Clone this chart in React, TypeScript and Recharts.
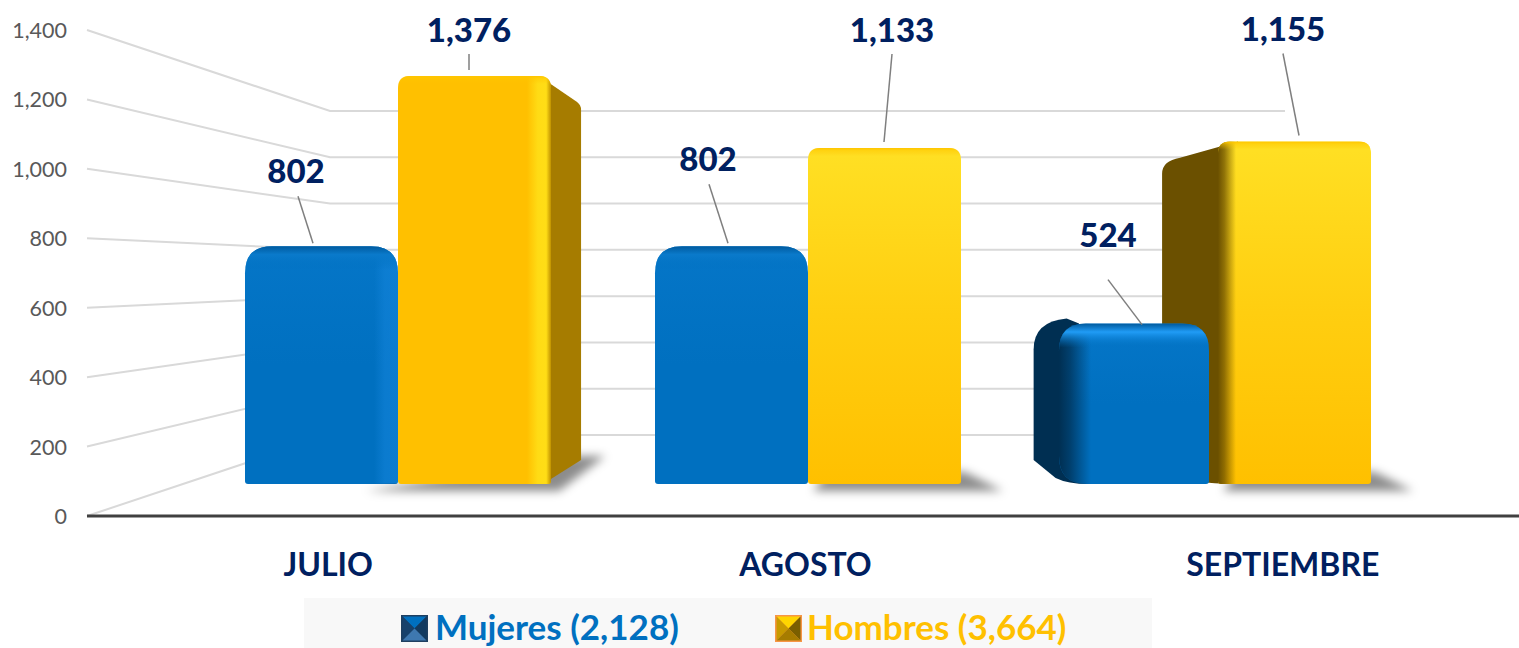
import React from "react";
import { BarChart, Bar, XAxis, YAxis, Legend, LabelList } from "recharts";

const months = ["JULIO", "AGOSTO", "SEPTIEMBRE"];
const mujeres = [802, 802, 524];
const hombres = [1376, 1133, 1155];
const wallTicks = [0, 200, 400, 600, 800, 1000, 1200, 1400];
const seriesNames = ["Mujeres (2,128)", "Hombres (3,664)"];

const rows = months.map((month, i) => ({ month, Mujeres: mujeres[i], Hombres: hombres[i] }));

// Layout only: where the callout text and its leader sit relative to each bar's top-centre.
const mujeresCallouts = [
  { tx: -25.5, ty: -76, x1: -23.5, y1: -50, x2: -8.5, y2: -3 },
  { tx: -23.5, ty: -88, x1: -22.5, y1: -62, x2: -3.5, y2: -3 },
  { tx: -26, ty: -95, x1: -26, y1: -49, x2: 8, y2: -4 },
];
const hombresCallouts = [
  { tx: -5.5, ty: -47, x1: -5.5, y1: -22, x2: -5.5, y2: -6 },
  { tx: 7.5, ty: -119, x1: 7.5, y1: -94, x2: -0.5, y2: -6 },
  { tx: -11.5, ty: -113, x1: -11.5, y1: -88, x2: 4.5, y2: -6 },
];

const FONT = "Lato, Carlito, Calibri, sans-serif";
const NAVY = "#002060";
const VX = 806;
const VY = 280;
const F = 0.118;

const tones: Record<string, any> = {
  blue: { base: "#0070C0", side: "#002F52", sideRight: "#00487C", hi: "#1585DC", r: 27, leftScale: 0.85 },
  gold: { base: "#FFC000", side: "#6B5000", sideRight: "#A67C00", hi: "#FFE21A", r: 12, leftScale: 1.15 },
};

function roundedFront(x: number, y: number, w: number, h: number, rt: number, rb: number, rbl: number) {
  return `M${x},${y + rt} Q${x},${y} ${x + rt},${y} L${x + w - rt},${y} Q${x + w},${y} ${x + w},${y + rt} L${x + w},${y + h - rb} Q${x + w},${y + h} ${x + w - rb},${y + h} L${x + rbl},${y + h} Q${x},${y + h} ${x},${y + h - rbl} Z`;
}

function Block(props: any) {
  const { x, width: w, height: rawH, y: rawY, index, tone, only } = props;
  const center = x + w / 2;
  const leftOfCentre = center < VX;
  if (only === "left" && !leftOfCentre) return <g />;
  if (only === "right" && leftOfCentre) return <g />;
  const t = tones[tone];
  const id = `${tone}-${only || "all"}-${index}`;
  const isGold = tone === "gold";
  const right = x + w;
  const showRight = right < VX - 100;
  const showLeft = x > VX + 100;
  const lift = showLeft && !isGold ? 5 : 0;
  const y = rawY - lift;
  const h = rawH + lift;
  const base = y + h;
  const backTop = y + (VY - y) * F;
  const backBase = base + (VY - base) * F;
  const sideTop = isGold ? backTop : Math.min(backTop, y);
  const bR = right + (VX - right) * F;
  const bL = x + (VX - x) * F * t.leftScale;
  const r = t.r;
  const bright = isGold && !showRight;
  const rbl = showLeft && !isGold ? 28 : 3;

  return (
    <g>
      <defs>
        <linearGradient id={`${id}-front`} x1="0" y1="0" x2="0" y2="1">
          <stop offset="0" stopColor={bright ? "#FFE024" : tone === "blue" ? "#0576C8" : t.base} />
          <stop offset="0.5" stopColor={bright ? "#FFCE10" : t.base} />
          <stop offset="1" stopColor={t.base} />
        </linearGradient>
        <linearGradient id={`${id}-shade`} x1="0" y1="0" x2="1" y2="0">
          <stop offset="0" stopColor={t.side} stopOpacity="1" />
          <stop offset="0.35" stopColor={t.side} stopOpacity="0.75" />
          <stop offset="1" stopColor={t.side} stopOpacity="0" />
        </linearGradient>
        <linearGradient id={`${id}-hi`} x1="0" y1="0" x2="1" y2="0">
          <stop offset="0" stopColor={t.hi} stopOpacity="0" />
          <stop offset="0.45" stopColor={t.hi} stopOpacity="0.95" />
          <stop offset="0.8" stopColor={t.hi} stopOpacity="1" />
          <stop offset="1" stopColor={isGold ? "#B58900" : t.hi} stopOpacity="1" />
        </linearGradient>
        <linearGradient id={`${id}-top`} x1="0" y1="0" x2="0" y2="1">
          <stop offset="0" stopColor={isGold ? "#FFC400" : "#005A9E"} stopOpacity="1" />
          <stop offset="0.35" stopColor={isGold ? "#FFC800" : showLeft ? "#209CF6" : "#0A7ACB"} stopOpacity={isGold ? 0.5 : 1} />
          <stop offset="1" stopColor={t.base} stopOpacity="0" />
        </linearGradient>
        <filter id={`${id}-blur`} x="-30%" y="-100%" width="160%" height="300%">
          <feGaussianBlur stdDeviation="5" />
        </filter>
        <clipPath id={`${id}-shadowclip`}>
          <rect x={x - 80} y={base - 1} width={w + 200} height={40} />
          <rect x={right - 5} y={base - 80} width={130} height={120} />
        </clipPath>
        <clipPath id={`${id}-clip`}>
          <path d={roundedFront(x, y, w, h, r, 3, rbl)} />
        </clipPath>
      </defs>

      {isGold && (
        <g clipPath={`url(#${id}-shadowclip)`}>
          <polygon
            filter={`url(#${id}-blur)`}
            fill="#000"
            fillOpacity={0.45}
            points={
              showRight
                ? `${x - 32},${base + 7} ${right + 8},${base + 7} ${bR + 24},${backBase - 4} ${bR - 5},${backBase - 4}`
                : `${x + 5},${base + 7} ${right + 42},${base + 7} ${right + 4},${base - 12} ${x + 20},${base - 12}`
            }
          />
        </g>
      )}

      {showRight && isGold && (
        <path
          d={`M${right - 12},${y} L${bR - 4},${backTop + 2} Q${bR},${backTop + 5} ${bR},${backTop + 10} L${bR},${backBase} L${right - 8},${base} Z`}
          fill={t.sideRight}
        />
      )}
      {showLeft && (
        <path
          d={`M${x + 20},${y} L${bL + r + 6},${sideTop} Q${bL},${sideTop + 3} ${bL},${sideTop + r + 4} L${bL},${backBase} L${bL + 22},${base - 6} Q${bL + 34},${base} ${x + 30},${base} Z`}
          fill={t.side}
        />
      )}

      <path d={roundedFront(x, y, w, h, r, 3, rbl)} fill={`url(#${id}-front)`} />
      <g clipPath={`url(#${id}-clip)`}>
        {showRight && <rect x={right - 24} y={y} width={24} height={h} fill={`url(#${id}-hi)`} opacity={isGold ? 0.85 : 0.55} />}
        {showLeft && <rect x={x} y={y - 2} width={isGold ? 18 : 32} height={h + 2} fill={`url(#${id}-shade)`} />}
        <rect x={x} y={y} width={w} height={tone === "blue" ? 24 : 8} fill={`url(#${id}-top)`} />
      </g>
    </g>
  );
}

function Callout(props: any) {
  const { x, y, width, index, value, callouts, only } = props;
  const center = x + width / 2;
  if (only === "left" && center >= VX) return null;
  if (only === "right" && center < VX) return null;
  const c = callouts[index];
  return (
    <g>
      <line x1={center + c.x1} y1={y + c.y1} x2={center + c.x2} y2={y + c.y2} stroke="#7F7F7F" strokeWidth={1.5} />
      <text
        x={center + c.tx}
        y={y + c.ty}
        textAnchor="middle"
        dominantBaseline="central"
        fontFamily={FONT}
        fontWeight={900}
        fontSize={33}
        fill={NAVY}
      >
        {Number(value).toLocaleString("en-US")}
      </text>
    </g>
  );
}

// Painted by an invisible first series so the perspective wall stays behind the columns.
// The y position of each tick comes from that series' own bar geometry on the wall axis.
function WallShape(props: any) {
  const { y, height, value, index } = props;
  if (index !== 0) return <g />;
  const v = Array.isArray(value) ? value[1] : value;
  const zero = y + height;
  const perUnit = height / v;
  return (
    <g>
      {wallTicks.map((t) => {
        const ty = zero - t * perUnit;
        const backY = 435 - (zero - ty) * (324 / 486);
        return (
          <polyline key={t} points={`87,${ty} 330,${backY} 1285,${backY}`} fill="none" stroke="#D9D9D9" strokeWidth={2} />
        );
      })}
    </g>
  );
}

function WallTick(props: any) {
  const { y, payload } = props;
  return (
    <text x={67} y={y} textAnchor="end" dominantBaseline="central" fontFamily={FONT} fontSize={21.5} fill="#595959">
      {Number(payload.value).toLocaleString("en-US")}
    </text>
  );
}

function MonthTick(props: any) {
  const { x, payload } = props;
  return (
    <text x={x + 2.5} y={563} textAnchor="middle" dominantBaseline="central" fontFamily={FONT} fontWeight={700} fontSize={32} fill={NAVY}>
      {payload.value}
    </text>
  );
}

function Swatch({ gold }: { gold: boolean }) {
  const c = gold
    ? { border: "#F79646", top: "#FFD500", left: "#C89A00", right: "#7A5F00", bottom: "#A67C00" }
    : { border: "#1F3F60", top: "#0070C0", left: "#17416B", right: "#123A60", bottom: "#3E78B0" };
  return (
    <svg width={27} height={27} style={{ display: "block" }}>
      <rect x={0} y={0} width={27} height={27} fill={c.border} />
      <polygon points="1.5,1.5 25.5,1.5 13.5,13.5" fill={c.top} />
      <polygon points="1.5,1.5 13.5,13.5 1.5,25.5" fill={c.left} />
      <polygon points="25.5,1.5 13.5,13.5 25.5,25.5" fill={c.right} />
      <polygon points="1.5,25.5 13.5,13.5 25.5,25.5" fill={c.bottom} />
    </svg>
  );
}

function LegendBox() {
  const label: React.CSSProperties = {
    position: "absolute",
    top: 3,
    fontFamily: FONT,
    fontWeight: 700,
    fontSize: 35,
    lineHeight: "50px",
    whiteSpace: "nowrap",
  };
  return (
    <div style={{ position: "absolute", left: 304, top: 598, width: 848, height: 50, background: "#F8F8F8" }}>
      <div style={{ position: "absolute", left: 97, top: 17 }}><Swatch gold={false} /></div>
      <div style={{ ...label, left: 131, color: "#0070C0" }}>{seriesNames[0]}</div>
      <div style={{ position: "absolute", left: 471, top: 17 }}><Swatch gold /></div>
      <div style={{ ...label, left: 503, color: "#FFC000" }}>{seriesNames[1]}</div>
    </div>
  );
}

export default function App() {
  return (
    <div style={{ position: "absolute", left: 0, top: 0, width: 1519, height: 648, background: "#fff", overflow: "hidden" }}>
      <BarChart
        width={1519}
        height={648}
        data={rows}
        margin={{ top: 30, right: 0, bottom: 0, left: 0 }}
        barGap={0}
      >
        <XAxis
          xAxisId="labels"
          dataKey="month"
          height={132}
          interval={0}
          tick={<MonthTick />}
          tickLine={false}
          axisLine={{ stroke: "#404040", strokeWidth: 3 }}
        />
        <XAxis xAxisId="bars" dataKey="month" hide height={0} padding={{ left: 106, right: 96 }} />
        <XAxis xAxisId="front" dataKey="month" hide height={0} padding={{ left: 27, right: 181 }} />
        <YAxis
          yAxisId="wall"
          width={87}
          domain={[0, 1400]}
          ticks={wallTicks}
          interval={0}
          tick={<WallTick />}
          tickLine={false}
          axisLine={false}
        />
        <YAxis yAxisId="bars" hide width={0} domain={[-108, 1531]} allowDataOverflow />

        <Bar
          xAxisId="labels"
          yAxisId="wall"
          dataKey="Hombres"
          fill="none"
          legendType="none"
          isAnimationActive={false}
          shape={<WallShape />}
        />
        <Bar
          xAxisId="bars"
          yAxisId="bars"
          dataKey="Mujeres"
          barSize={153}
          fill="#0070C0"
          isAnimationActive={false}
          shape={<Block tone="blue" only="left" />}
        >
          <LabelList dataKey="Mujeres" content={<Callout callouts={mujeresCallouts} only="left" />} />
        </Bar>
        <Bar
          xAxisId="bars"
          yAxisId="bars"
          dataKey="Hombres"
          barSize={153}
          fill="#FFC000"
          isAnimationActive={false}
          shape={<Block tone="gold" />}
        >
          <LabelList dataKey="Hombres" content={<Callout callouts={hombresCallouts} />} />
        </Bar>
        <Bar
          xAxisId="front"
          yAxisId="bars"
          dataKey="Mujeres"
          barSize={150}
          fill="#0070C0"
          isAnimationActive={false}
          legendType="none"
          shape={<Block tone="blue" only="right" />}
        >
          <LabelList dataKey="Mujeres" content={<Callout callouts={mujeresCallouts} only="right" />} />
        </Bar>
        <Legend
          content={() => <LegendBox />}
          wrapperStyle={{ position: "absolute", left: 0, top: 0, width: 0, height: 0 }}
        />
      </BarChart>
    </div>
  );
}
